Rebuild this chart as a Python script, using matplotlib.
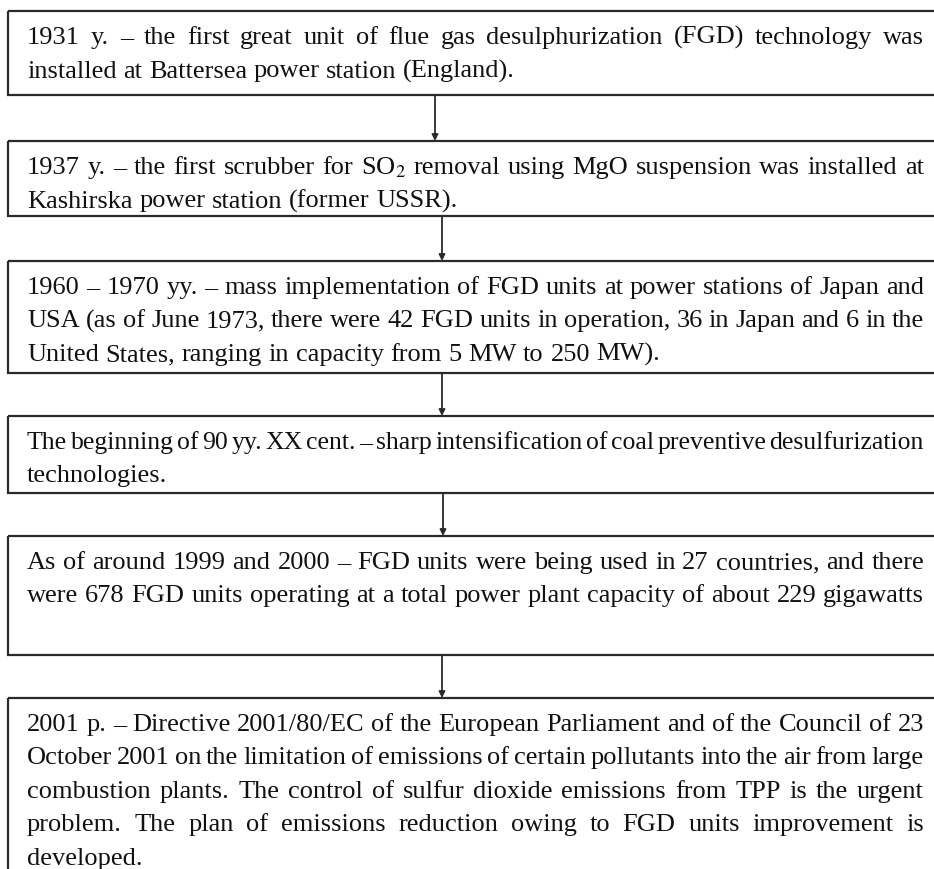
import matplotlib
matplotlib.use("Agg")
import matplotlib.pyplot as plt
from matplotlib.patches import Rectangle

# timeline text, one list of lines per box (line breaks as in the original)
box_lines = [
    ["1931 y. \u2013 the first great unit of flue gas desulphurization (FGD) technology was",
     "installed at Battersea power station (England)."],
    ["1937 y. \u2013 the first scrubber for SO$_2$ removal using MgO suspension was installed at",
     "Kashirska power station (former USSR)."],
    ["1960 \u2013 1970 yy. \u2013 mass implementation of FGD units at power stations of Japan and",
     "USA (as of June 1973, there were 42 FGD units in operation, 36 in Japan and 6 in the",
     "United States, ranging in capacity from 5 MW to 250 MW)."],
    ["The beginning of 90 yy. XX cent. \u2013 sharp intensification of coal preventive desulfurization",
     "technologies."],
    ["As of around 1999 and 2000 \u2013 FGD units were being used in 27 countries, and there",
     "were 678 FGD units operating at a total power plant capacity of about 229 gigawatts"],
    ["2001 p. \u2013 Directive 2001/80/EC of the European Parliament and of the Council of 23",
     "October 2001 on the limitation of emissions of certain pollutants into the air from large",
     "combustion plants. The control of sulfur dioxide emissions from TPP is the urgent",
     "problem. The plan of emissions reduction owing to FGD units improvement is",
     "developed."],
]
# which lines are stretched to the full width
justified = [
    [True, False],
    [True, False],
    [True, True, False],
    [True, False],
    [True, True],
    [True, True, True, True, False],
]

# layout (pixels)
box_top = [12, 142, 262, 417, 537, 699]
box_bot = [96, 217, 374, 494, 656, 880]
arrow_x = [435, 442, 442, 443, 442]
left, right = 8, 945
txt_left, txt_right = 27, 924
fs = 19
line_h = 33.5
font = "Liberation Serif"
plt.rcParams["mathtext.fontset"] = "stix"

fig = plt.figure(figsize=(9.34, 8.70), dpi=100)
ax = fig.add_axes([0, 0, 1, 1])
ax.set_xlim(0, 934)
ax.set_ylim(870, 0)
ax.axis("off")
rend = fig.canvas.get_renderer()


def word_w(w, size):
    t = ax.text(0, 0, w, fontsize=size, family=font)
    bb = t.get_window_extent(renderer=rend)
    t.remove()
    return bb.width


def draw_line(s, y, just):
    words = s.split(" ")
    size = fs
    widths = [word_w(w, size) for w in words]
    sp = word_w("a a", size) - word_w("aa", size)
    avail = txt_right - txt_left
    if just and len(words) > 1:
        gap = (avail - sum(widths)) / (len(words) - 1)
        while gap < 0.5 * sp:
            size -= 0.25
            widths = [word_w(w, size) for w in words]
            sp = word_w("a a", size) - word_w("aa", size)
            gap = (avail - sum(widths)) / (len(words) - 1)
    else:
        gap = sp
    x = txt_left
    for w, wd in zip(words, widths):
        ax.text(x, y, w, fontsize=size, family=font, color="#111111",
                ha="left", va="baseline")
        x += wd + gap


for i, lines in enumerate(box_lines):
    ax.add_patch(Rectangle((left, box_top[i]), right - left, box_bot[i] - box_top[i],
                           fill=False, lw=1.6, ec="#2a2a2a", clip_on=True))
    for j, s in enumerate(lines):
        draw_line(s, box_top[i] + 32 + j * line_h, justified[i][j])

for k, xa in enumerate(arrow_x):
    ax.annotate("", xy=(xa, box_top[k + 1]), xytext=(xa, box_bot[k]),
                arrowprops=dict(arrowstyle="-|>", color="#2a2a2a", lw=1.3,
                                mutation_scale=9, shrinkA=0, shrinkB=0))

fig.savefig("out.png", dpi=100)
